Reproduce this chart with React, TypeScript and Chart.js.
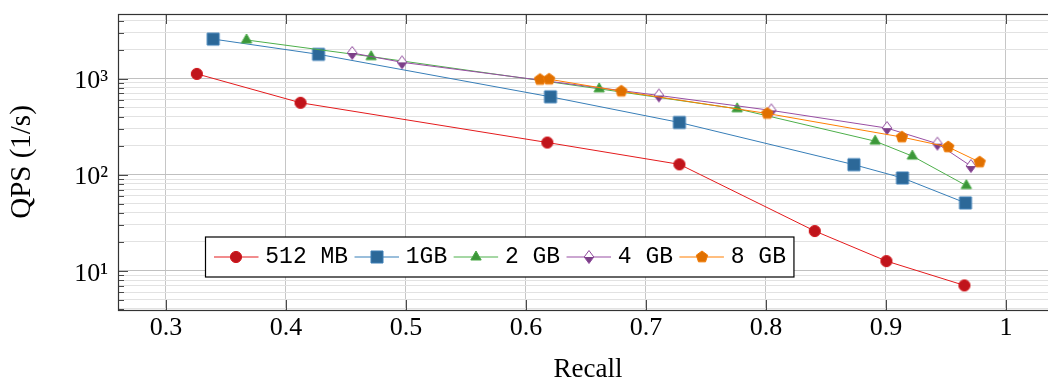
import React, { useEffect, useRef } from 'react';
import { Chart, registerables } from 'chart.js';

Chart.register(...registerables);

// ---------- data ----------
const seriesLabels = ['512 MB', '1GB', '2 GB', '4 GB', '8 GB'];

const recall512 = [0.3257, 0.4121, 0.6178, 0.7279, 0.8407, 0.9004, 0.9654];
const qps512 = [1119, 560, 216, 128, 25.9, 12.6, 7.03];

const recall1G = [0.3393, 0.4271, 0.6204, 0.7279, 0.8733, 0.9138, 0.9663];
const qps1G = [2577, 1788, 646, 349, 127, 92.3, 50.8];

const recall2G = [0.3671, 0.471, 0.661, 0.776, 0.891, 0.922, 0.967];
const qps2G = [2522, 1692, 782, 485, 223, 156, 76.9];

const recall4G = [0.4552, 0.4967, 0.7108, 0.8045, 0.9009, 0.9429, 0.9708];
const qps4G = [1848, 1476, 667, 466, 305, 210, 123];

const recall8G = [0.6117, 0.6193, 0.6795, 0.8011, 0.9133, 0.9519, 0.9781];
const qps8G = [977, 984, 738, 433, 246, 194, 135];

const xTickValues = [0.3, 0.4, 0.5, 0.6, 0.7, 0.8, 0.9, 1.0];
const xTickLabels = ['0.3', '0.4', '0.5', '0.6', '0.7', '0.8', '0.9', '1'];
const yMajorValues = [10, 100, 1000];
const yMajorLabels = ['10¹', '10²', '10³'];
const yMinorMultipliers = [2, 3, 4, 5, 6, 7, 8, 9];

const xTitle = 'Recall';
const yTitle = 'QPS (1/s)';

const xRange = [0.26, 1.0434];
const yRange = [3.9, 4700];

// ---------- styles ----------
const lineColors = ['#e41a1c', '#377eb8', '#4daf4a', '#984ea3', '#ff7f00'];
const markFills = ['#c0141b', '#2c6898', '#3c9639', '#7b3f87', '#e07000'];
const markStrokes = ['#d0181d', '#3d7fb6', '#48a845', '#8f4a9c', '#f07a05'];
const markKinds = ['circle', 'square', 'triangle', 'halfdiamond', 'pentagon'];

const SERIF = '"Liberation Serif", "Times New Roman", serif';
const MONO = '"Liberation Mono", "DejaVu Sans Mono", monospace';

function makeMarker(kind: string, fill: string, stroke: string): HTMLCanvasElement {
  const S = 16;
  const c = document.createElement('canvas');
  c.width = S;
  c.height = S;
  const g = c.getContext('2d') as CanvasRenderingContext2D;
  const cx = S / 2;
  const cy = S / 2;
  g.lineWidth = 1;
  g.fillStyle = fill;
  g.strokeStyle = stroke;
  g.lineJoin = 'miter';
  if (kind === 'circle') {
    g.beginPath();
    g.arc(cx, cy, 5.6, 0, Math.PI * 2);
    g.fill();
    g.stroke();
  } else if (kind === 'square') {
    g.beginPath();
    g.rect(cx - 6, cy - 6, 12, 12);
    g.fill();
    g.stroke();
  } else if (kind === 'triangle') {
    const r = 6;
    g.beginPath();
    g.moveTo(cx, cy - r);
    g.lineTo(cx + r * 0.866, cy + r / 2);
    g.lineTo(cx - r * 0.866, cy + r / 2);
    g.closePath();
    g.fill();
    g.stroke();
  } else if (kind === 'pentagon') {
    const R = 6;
    g.beginPath();
    for (let i = 0; i < 5; i++) {
      const a = -Math.PI / 2 + (i * 2 * Math.PI) / 5;
      const px = cx + R * Math.cos(a);
      const py = cy + R * Math.sin(a);
      if (i === 0) g.moveTo(px, py);
      else g.lineTo(px, py);
    }
    g.closePath();
    g.fill();
    g.stroke();
  } else if (kind === 'halfdiamond') {
    const w = 4.8;
    const h = 6.5;
    g.beginPath();
    g.moveTo(cx - w, cy);
    g.lineTo(cx, cy - h);
    g.lineTo(cx + w, cy);
    g.closePath();
    g.fillStyle = '#ffffff';
    g.fill();
    g.beginPath();
    g.moveTo(cx - w, cy);
    g.lineTo(cx, cy + h);
    g.lineTo(cx + w, cy);
    g.closePath();
    g.fillStyle = fill;
    g.fill();
    g.beginPath();
    g.moveTo(cx - w, cy);
    g.lineTo(cx, cy - h);
    g.lineTo(cx + w, cy);
    g.lineTo(cx, cy + h);
    g.closePath();
    g.stroke();
  }
  return c;
}

function isMajorY(v: number): boolean {
  const l = Math.log10(v);
  return Math.abs(l - Math.round(l)) < 1e-9;
}

export default function App() {
  const canvasRef = useRef<HTMLCanvasElement | null>(null);

  useEffect(() => {
    document.body.style.margin = '0';
    const canvas = canvasRef.current;
    if (!canvas) return;

    const markers = markKinds.map((k, i) => makeMarker(k, markFills[i], markStrokes[i]));
    const xsAll = [recall512, recall1G, recall2G, recall4G, recall8G];
    const ysAll = [qps512, qps1G, qps2G, qps4G, qps8G];

    const datasets = seriesLabels.map((label, i) => ({
      label,
      data: xsAll[i].map((x, j) => ({ x, y: ysAll[i][j] })),
      borderColor: lineColors[i],
      backgroundColor: lineColors[i],
      borderWidth: 1,
      pointStyle: markers[i] as any,
      pointRadius: 6,
      pointHoverRadius: 6,
      fill: false,
      tension: 0,
      order: seriesLabels.length - i,
    }));

    const yTicks: number[] = [];
    for (let e = 0; e <= 3; e++) {
      const base = Math.pow(10, e);
      [1, ...yMinorMultipliers].forEach((m) => {
        const v = m * base;
        if (v >= yRange[0] && v <= yRange[1]) yTicks.push(v);
      });
    }

    const decorPlugin = {
      id: 'decor',
      afterDraw(chart: any) {
        const { ctx, chartArea } = chart;
        const { left, right, top, bottom } = chartArea;
        const xs = chart.scales.x;
        const ys = chart.scales.y;
        ctx.save();
        // inner ticks
        ctx.strokeStyle = '#4a4a4a';
        ctx.lineWidth = 1;
        ctx.beginPath();
        xTickValues.forEach((v) => {
          const px = Math.round(xs.getPixelForValue(v)) + 0.5;
          ctx.moveTo(px, bottom);
          ctx.lineTo(px, bottom - 10);
          ctx.moveTo(px, top);
          ctx.lineTo(px, top + 10);
        });
        yTicks.forEach((v) => {
          const py = Math.round(ys.getPixelForValue(v)) + 0.5;
          const len = isMajorY(v) ? 10 : 6;
          ctx.moveTo(left, py);
          ctx.lineTo(left + len, py);
          ctx.moveTo(right, py);
          ctx.lineTo(right - len, py);
        });
        ctx.stroke();
        // frame
        ctx.strokeStyle = '#333333';
        ctx.lineWidth = 1.2;
        ctx.strokeRect(left + 0.5, top + 0.5, right - left, bottom - top);

        // axis titles
        ctx.fillStyle = '#000';
        ctx.font = `27px ${SERIF}`;
        ctx.textAlign = 'center';
        ctx.textBaseline = 'alphabetic';
        ctx.fillText(xTitle, (left + right) / 2, 377);
        ctx.save();
        ctx.font = `29px ${SERIF}`;
        ctx.translate(22, (top + bottom) / 2);
        ctx.rotate(-Math.PI / 2);
        ctx.textBaseline = 'middle';
        ctx.fillText(yTitle, 0, 0);
        ctx.restore();

        // legend
        ctx.font = `23px ${MONO}`;
        const boxL = left + 87.5;
        const boxT = top + 223;
        const boxH = 40;
        const lineLen = 44.5;
        let cx = boxL + 8.5;
        const items: { x0: number; tx: number; w: number }[] = [];
        seriesLabels.forEach((lab) => {
          const w = ctx.measureText(lab).width;
          items.push({ x0: cx, tx: cx + lineLen + 6.8, w });
          cx = cx + lineLen + 6.8 + w + 6.4;
        });
        const last = items[items.length - 1];
        const boxR = last.tx + last.w + 8;
        ctx.fillStyle = '#ffffff';
        ctx.fillRect(boxL, boxT, boxR - boxL, boxH);
        ctx.strokeStyle = '#000';
        ctx.lineWidth = 1.2;
        ctx.strokeRect(boxL, boxT, boxR - boxL, boxH);
        const midY = boxT + boxH / 2;
        items.forEach((it, i) => {
          ctx.strokeStyle = lineColors[i];
          ctx.lineWidth = 1.2;
          ctx.beginPath();
          ctx.moveTo(it.x0, midY);
          ctx.lineTo(it.x0 + lineLen, midY);
          ctx.stroke();
          const m = markers[i];
          ctx.drawImage(m, Math.round(it.x0 + lineLen / 2 - m.width / 2), Math.round(midY - m.height / 2));
          ctx.fillStyle = '#000';
          ctx.textAlign = 'left';
          ctx.textBaseline = 'middle';
          ctx.fillText(seriesLabels[i], it.tx, midY);
        });
        ctx.restore();
      },
    };

    const chart = new Chart(canvas, {
      type: 'line',
      data: { datasets: datasets as any },
      options: {
        animation: false,
        responsive: false,
        events: [],
        layout: { padding: { top: 14, right: 12, left: 0, bottom: 0 } },
        plugins: { legend: { display: false }, tooltip: { enabled: false } },
        scales: {
          x: {
            type: 'linear',
            min: xRange[0],
            max: xRange[1],
            afterFit: (s: any) => {
              s.height = 69;
              s.paddingLeft = 0;
              s.paddingRight = 0;
            },
            afterBuildTicks: (s: any) => {
              s.ticks = xTickValues.map((v) => ({ value: v }));
            },
            ticks: {
              autoSkip: false,
              maxRotation: 0,
              padding: 3,
              color: '#000',
              font: { family: SERIF, size: 26, lineHeight: 1.2 },
              callback: (v: any) => {
                const idx = xTickValues.findIndex((t) => Math.abs(t - Number(v)) < 1e-9);
                return idx >= 0 ? xTickLabels[idx] : '';
              },
            },
            grid: { color: '#c6c6c6', lineWidth: 1, drawTicks: false },
            border: { display: false },
            title: { display: false },
          },
          y: {
            type: 'logarithmic',
            min: yRange[0],
            max: yRange[1],
            afterFit: (s: any) => {
              s.width = 118;
              s.paddingTop = 0;
              s.paddingBottom = 0;
            },
            afterBuildTicks: (s: any) => {
              s.ticks = yTicks.map((v) => ({ value: v, major: isMajorY(v) }));
            },
            ticks: {
              autoSkip: false,
              padding: 10,
              labelOffset: 3,
              color: '#000',
              font: { family: SERIF, size: 26, lineHeight: 1.2 },
              callback: (v: any) => {
                const idx = yMajorValues.findIndex((t) => Math.abs(t - Number(v)) < 1e-6);
                return idx >= 0 ? yMajorLabels[idx] : '';
              },
            },
            grid: {
              drawTicks: false,
              lineWidth: 1,
              color: (c: any) => (c.tick && isMajorY(c.tick.value) ? '#c0c0c0' : '#e2e2e2'),
            },
            border: { display: false },
            title: { display: false },
          },
        },
      },
      plugins: [decorPlugin],
    });

    return () => {
      chart.destroy();
    };
  }, []);

  return (
    <div style={{ width: 1048, height: 379, overflow: 'hidden', position: 'relative' }}>
      <canvas ref={canvasRef} width={1070} height={379} style={{ display: 'block' }} />
    </div>
  );
}
